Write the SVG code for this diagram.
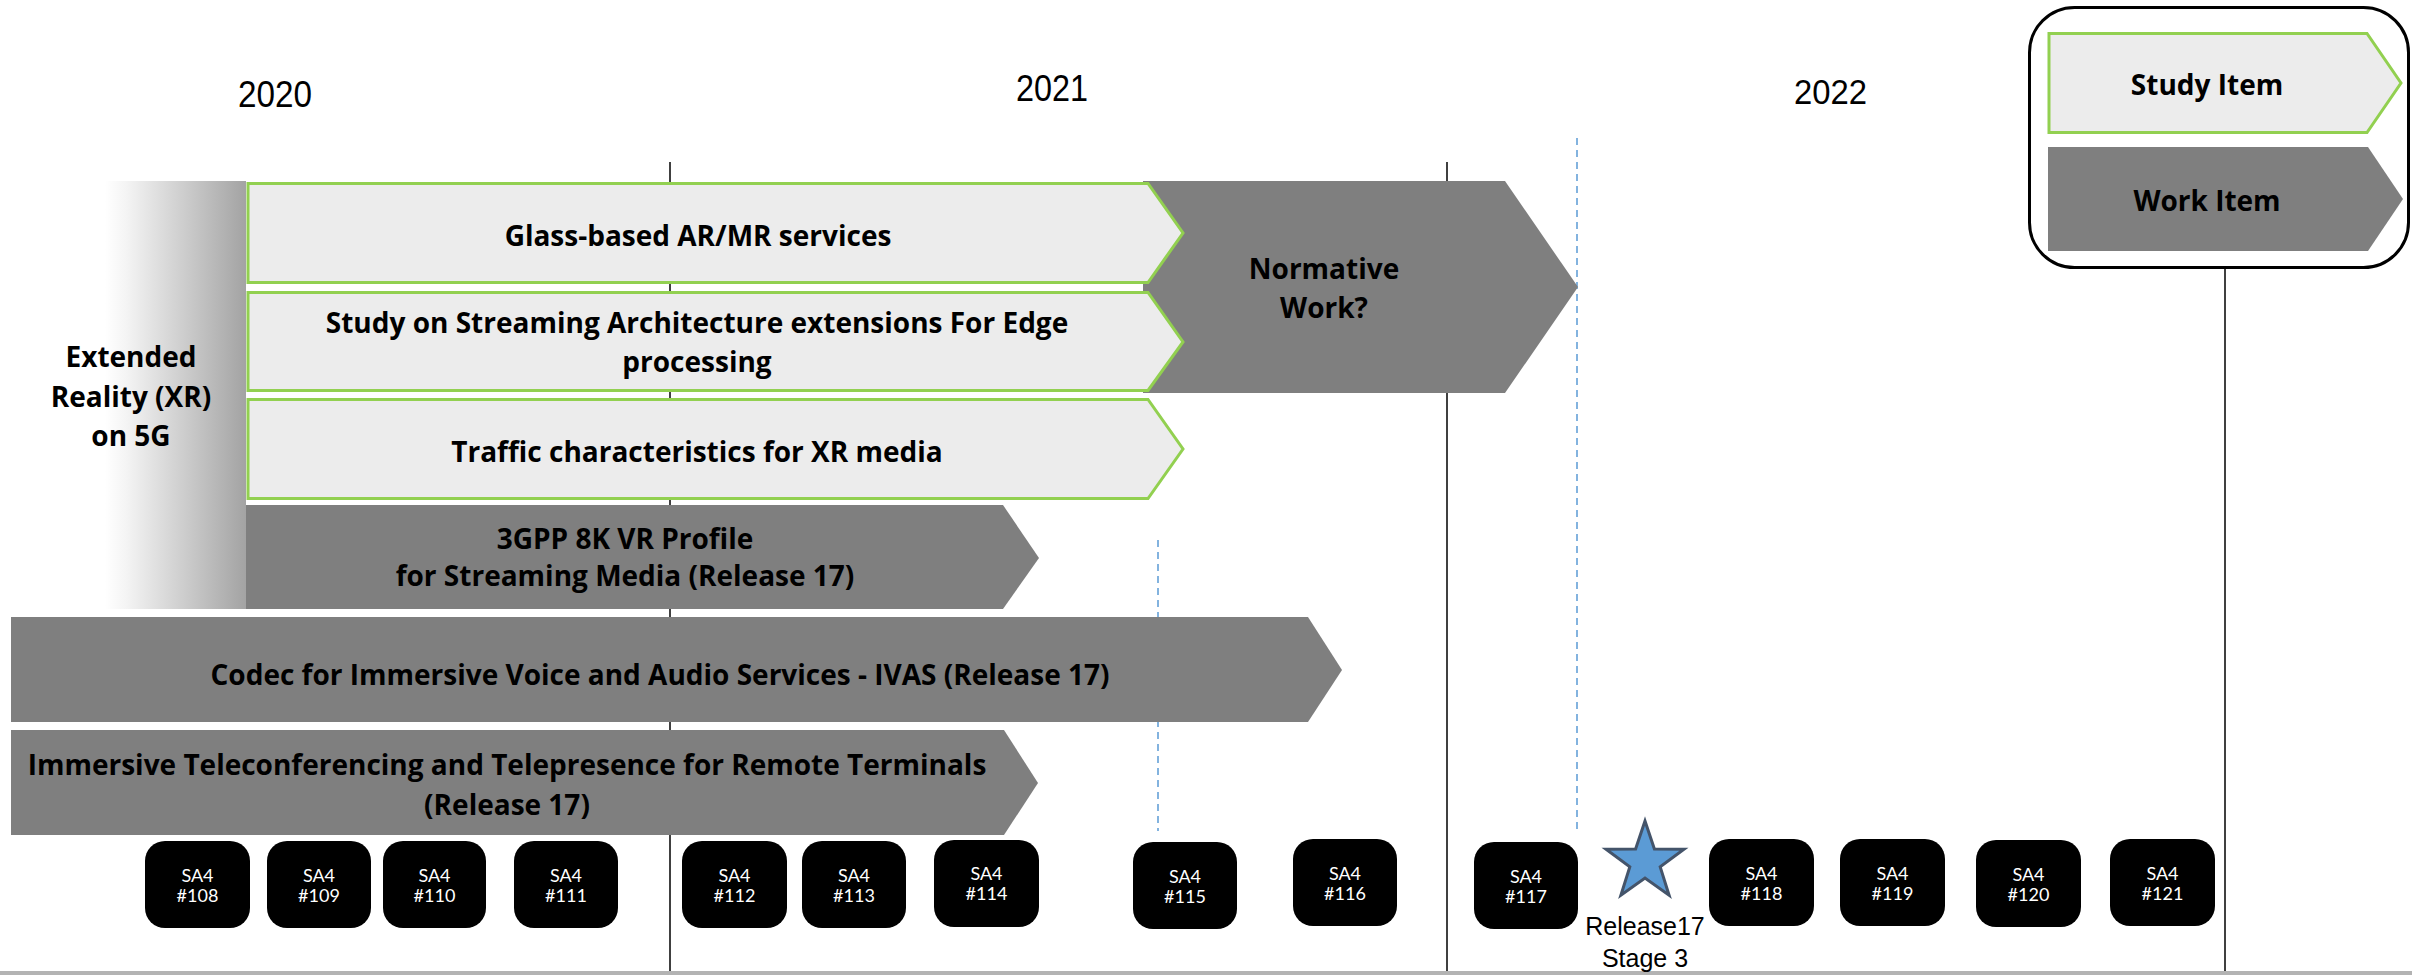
<svg xmlns="http://www.w3.org/2000/svg" width="2412" height="975" viewBox="0 0 2412 975">
<style>
.year{font-family:"Liberation Sans",Arial,sans-serif;font-size:37px;fill:#000}
.lbl{font-family:"Open Sans","Noto Sans",sans-serif;font-weight:bold;font-size:28px;fill:#000;text-anchor:middle}
.study{fill:#ececec;stroke:#92d050;stroke-width:3}
.work{fill:#7f7f7f;stroke:none}
.sa4 rect{fill:#000}
.sa4 text{font-family:Lato,"Noto Sans",sans-serif;font-size:18px;fill:#fff;text-anchor:middle}
.vline{stroke:#000;stroke-width:1.5}
.dash{stroke:#5b9bd5;stroke-width:1.5;stroke-dasharray:7 5}
.rel{font-family:"Liberation Sans",Arial,sans-serif;font-size:25px;fill:#000;text-anchor:middle}
</style>
<defs>
<linearGradient id="xrg" x1="0" y1="0" x2="1" y2="0">
<stop offset="0" stop-color="#ffffff"/>
<stop offset="0.15" stop-color="#f4f4f4"/>
<stop offset="1" stop-color="#a3a3a3"/>
</linearGradient>
</defs>
<rect x="0" y="0" width="2412" height="975" fill="#fff"/>

<g id="years">
<text class="year" x="238" y="107" textLength="74" lengthAdjust="spacingAndGlyphs">2020</text>
<text class="year" x="1016" y="101" textLength="72" lengthAdjust="spacingAndGlyphs">2021</text>
<text class="year" x="1794" y="104" style="font-size:35px" textLength="73" lengthAdjust="spacingAndGlyphs">2022</text>
</g>

<g id="connectors">
<line class="vline" x1="670" y1="162" x2="670" y2="975"/>
<line class="vline" x1="1447" y1="162" x2="1447" y2="975"/>
<line class="vline" x1="2225" y1="269" x2="2225" y2="975"/>
<line class="dash" x1="1577" y1="138" x2="1577" y2="831"/>
<line class="dash" x1="1158" y1="540" x2="1158" y2="831"/>
</g>

<rect x="0" y="971" width="2412" height="4" fill="#b3b3b3"/>

<g id="xr-label">
<rect x="105" y="181" width="141" height="428" fill="url(#xrg)"/>
<text class="lbl" x="131" y="367">Extended</text>
<text class="lbl" x="131" y="407">Reality (XR)</text>
<text class="lbl" x="131" y="446">on 5G</text>
</g>

<g id="normative">
<polygon class="work" points="1143,181 1505,181 1578,287 1505,393 1143,393"/>
<text class="lbl" x="1324" y="279">Normative</text>
<text class="lbl" x="1324" y="318">Work?</text>
</g>

<g id="glass">
<polygon class="study" points="248,183.5 1148,183.5 1183,233 1148,282.5 248,282.5"/>
<text class="lbl" x="698" y="246">Glass-based AR/MR services</text>
</g>

<g id="streaming">
<polygon class="study" points="248,292.5 1148,292.5 1183,342 1148,390.5 248,390.5"/>
<text class="lbl" x="697" y="333">Study on Streaming Architecture extensions For Edge</text>
<text class="lbl" x="697" y="372">processing</text>
</g>

<g id="traffic">
<polygon class="study" points="248,399.5 1148,399.5 1183,449 1148,498.5 248,498.5"/>
<text class="lbl" x="697" y="462">Traffic characteristics for XR media</text>
</g>

<g id="vr8k">
<polygon class="work" points="246,505 1003,505 1039,558 1003,609 246,609"/>
<text class="lbl" x="625" y="549">3GPP 8K VR Profile</text>
<text class="lbl" x="625" y="586">for Streaming Media (Release 17)</text>
</g>

<g id="ivas">
<polygon class="work" points="11,617 1308,617 1342,670 1308,722 11,722"/>
<text class="lbl" x="660" y="685">Codec for Immersive Voice and Audio Services - IVAS (Release 17)</text>
</g>

<g id="itt4rt">
<polygon class="work" points="11,730 1004,730 1038,783 1004,835 11,835"/>
<text class="lbl" x="507" y="775">Immersive Teleconferencing and Telepresence for Remote Terminals</text>
<text class="lbl" x="507" y="815">(Release 17)</text>
</g>

<g id="legend">
<rect x="2029.5" y="7.5" width="379" height="260" rx="45" fill="#fff" stroke="#000" stroke-width="3"/>
<polygon class="study" points="2049,33.5 2367,33.5 2401,83 2367,132.5 2049,132.5"/>
<text class="lbl" x="2207" y="95">Study Item</text>
<polygon class="work" points="2048,147 2368,147 2403,199 2368,251 2048,251"/>
<text class="lbl" x="2207" y="211">Work Item</text>
</g>

<g id="sa4-108" class="sa4"><rect x="145" y="841" width="105" height="87" rx="20"/><text x="197.5" y="882">SA4</text><text x="197.5" y="902">#108</text></g>
<g id="sa4-109" class="sa4"><rect x="267" y="841" width="104" height="87" rx="20"/><text x="319" y="882">SA4</text><text x="319" y="902">#109</text></g>
<g id="sa4-110" class="sa4"><rect x="383" y="841" width="103" height="87" rx="20"/><text x="434.5" y="882">SA4</text><text x="434.5" y="902">#110</text></g>
<g id="sa4-111" class="sa4"><rect x="514" y="841" width="104" height="87" rx="20"/><text x="566" y="882">SA4</text><text x="566" y="902">#111</text></g>
<g id="sa4-112" class="sa4"><rect x="682" y="841" width="105" height="87" rx="20"/><text x="734.5" y="882">SA4</text><text x="734.5" y="902">#112</text></g>
<g id="sa4-113" class="sa4"><rect x="802" y="841" width="104" height="87" rx="20"/><text x="854" y="882">SA4</text><text x="854" y="902">#113</text></g>
<g id="sa4-114" class="sa4"><rect x="934" y="840" width="105" height="87" rx="20"/><text x="986.5" y="880">SA4</text><text x="986.5" y="900">#114</text></g>
<g id="sa4-115" class="sa4"><rect x="1133" y="842" width="104" height="87" rx="20"/><text x="1185" y="883">SA4</text><text x="1185" y="903">#115</text></g>
<g id="sa4-116" class="sa4"><rect x="1293" y="839" width="104" height="87" rx="20"/><text x="1345" y="880">SA4</text><text x="1345" y="900">#116</text></g>
<g id="sa4-117" class="sa4"><rect x="1474" y="842" width="104" height="87" rx="20"/><text x="1526" y="883">SA4</text><text x="1526" y="903">#117</text></g>
<g id="sa4-118" class="sa4"><rect x="1709" y="839" width="105" height="87" rx="20"/><text x="1761.5" y="880">SA4</text><text x="1761.5" y="900">#118</text></g>
<g id="sa4-119" class="sa4"><rect x="1840" y="839" width="105" height="87" rx="20"/><text x="1892.5" y="880">SA4</text><text x="1892.5" y="900">#119</text></g>
<g id="sa4-120" class="sa4"><rect x="1976" y="840" width="105" height="87" rx="20"/><text x="2028.5" y="881">SA4</text><text x="2028.5" y="901">#120</text></g>
<g id="sa4-121" class="sa4"><rect x="2110" y="839" width="105" height="87" rx="20"/><text x="2162.5" y="880">SA4</text><text x="2162.5" y="900">#121</text></g>

<g id="release17">
<polygon points="1645,821 1654.4,849.1 1684,849.3 1660.2,866.9 1669.1,895.2 1645,878 1620.9,895.2 1629.8,866.9 1606,849.3 1635.6,849.1" fill="#5b9bd5" stroke="#44546a" stroke-width="3" stroke-linejoin="miter"/>
<text class="rel" x="1645" y="935">Release17</text>
<text class="rel" x="1645" y="967">Stage 3</text>
</g>
</svg>
